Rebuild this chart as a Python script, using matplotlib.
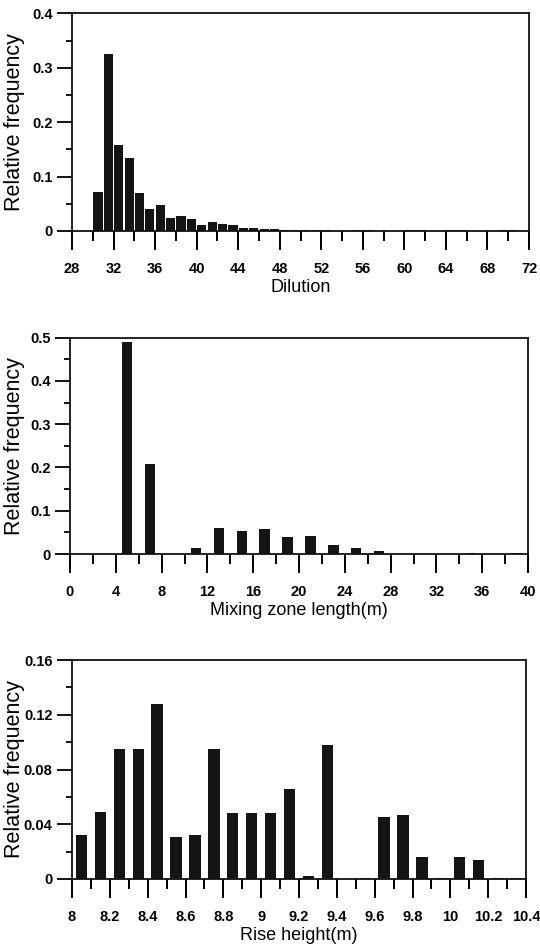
import matplotlib
matplotlib.use("Agg")
import matplotlib.pyplot as plt
from matplotlib.ticker import MultipleLocator, FuncFormatter

plt.rcParams["font.family"] = ["Liberation Sans", "DejaVu Sans"]

# Dilution histogram (bin centres and relative frequency)
dil_x = [30.5, 31.5, 32.5, 33.5, 34.5, 35.5, 36.5, 37.5, 38.5, 39.5,
         40.5, 41.5, 42.5, 43.5, 44.5, 45.5, 46.5, 47.5, 48.5, 49.5,
         50.5, 51.5, 52.5, 53.5, 54.5, 55.5, 56.5, 57.5, 58.5, 59.5,
         60.5, 61.5, 62.5, 63.5, 64.5, 65.5, 66.5, 67.5, 68.5, 69.5,
         70.5, 71.5]
dil_f = [0.071, 0.326, 0.158, 0.135, 0.069, 0.041, 0.048, 0.023, 0.027, 0.022,
         0.011, 0.017, 0.012, 0.011, 0.005, 0.005, 0.004, 0.004, 0.001, 0.002,
         0.001, 0.001, 0.001, 0.0, 0.0, 0.002, 0.002, 0.0, 0.0, 0.0,
         0.001, 0.001, 0.0, 0.0, 0.001, 0.001, 0.0, 0.0, 0.0, 0.001,
         0.001, 0.0]

# Mixing zone length histogram
mix_x = [5, 7, 9, 11, 13, 15, 17, 19, 21, 23, 25, 27, 29, 31, 33, 35, 37, 39]
mix_f = [0.491, 0.207, 0.001, 0.015, 0.059, 0.053, 0.057, 0.039, 0.041,
         0.020, 0.013, 0.006, 0.001, 0.001, 0.001, 0.002, 0.001, 0.002]

# Rise height histogram
rise_x = [8.05, 8.15, 8.25, 8.35, 8.45, 8.55, 8.65, 8.75, 8.85, 8.95,
          9.05, 9.15, 9.25, 9.35, 9.45, 9.55, 9.65, 9.75, 9.85, 9.95,
          10.05, 10.15, 10.25, 10.35]
rise_f = [0.032, 0.049, 0.095, 0.095, 0.128, 0.031, 0.032, 0.095, 0.048, 0.048,
          0.048, 0.066, 0.002, 0.098, 0.0, 0.0005, 0.0455, 0.0465, 0.016, 0.0005,
          0.016, 0.014, 0.0005, 0.0005]

W, H = 540, 951
fig = plt.figure(figsize=(W / 100, H / 100), dpi=100)


def fmt(v, pos):
    if abs(v) < 1e-9:
        return "0"
    return f"{v:g}"


def make_panel(left, top, bottom, right, x, f, width, xlim, xmaj, xmin_,
               ylim, ymaj, ymin_, xlabel):
    ax = fig.add_axes([left / W, 1 - bottom / H, (right - left) / W, (bottom - top) / H])
    ax.bar(x, f, width=width, color="#141414", edgecolor="none")
    ax.set_xlim(*xlim)
    ax.set_ylim(*ylim)
    ax.xaxis.set_major_locator(MultipleLocator(xmaj))
    ax.xaxis.set_minor_locator(MultipleLocator(xmin_))
    ax.yaxis.set_major_locator(MultipleLocator(ymaj))
    ax.yaxis.set_minor_locator(MultipleLocator(ymin_))
    ax.xaxis.set_major_formatter(FuncFormatter(fmt))
    ax.yaxis.set_major_formatter(FuncFormatter(fmt))
    for s in ax.spines.values():
        s.set_linewidth(1.3)
        s.set_color("#111111")
    ax.tick_params(axis="x", which="major", direction="out", length=13.5,
                   width=1.4, pad=9, labelsize=10.5)
    ax.tick_params(axis="x", which="minor", direction="out", length=7, width=1.4)
    ax.tick_params(axis="y", which="major", direction="out", length=11,
                   width=1.3, pad=3, labelsize=10.5)
    ax.tick_params(axis="y", which="minor", direction="out", length=4.5, width=1.3)
    for lab in ax.get_xticklabels() + ax.get_yticklabels():
        lab.set_fontweight("bold")
    ax.set_xlabel(xlabel, fontsize=13, labelpad=2)
    ax.set_ylabel("Relative frequency", fontsize=15.5)
    w_px = right - left
    ax.yaxis.set_label_coords((25 - left) / w_px, 0.5)
    return ax


make_panel(72, 13.3, 231, 529, dil_x, dil_f, 0.88, (28, 72), 4, 2,
           (0, 0.4), 0.1, 0.05, "Dilution")
make_panel(70, 337.7, 554, 528, mix_x, mix_f, 0.9, (0, 40), 4, 2,
           (0, 0.5), 0.1, 0.05, "Mixing zone length(m)")
make_panel(72, 660, 879, 526, rise_x, rise_f, 0.06, (8, 10.4), 0.2, 0.1,
           (0, 0.16), 0.04, 0.02, "Rise height(m)")

fig.savefig("out.png", dpi=100)
